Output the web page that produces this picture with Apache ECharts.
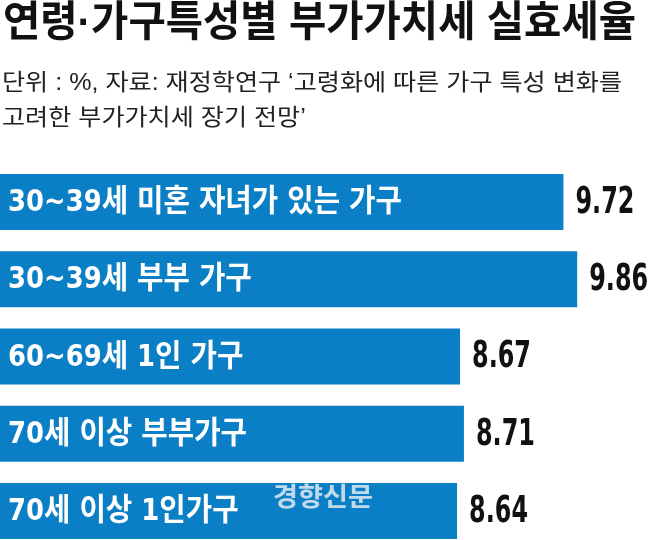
<!DOCTYPE html>
<html>
<head>
<meta charset="utf-8">
<script src="https://cdn.jsdelivr.net/npm/echarts@6/dist/echarts.min.js"></script>
<style>
html, body { margin: 0; padding: 0; background: #fff; }
#chart { width: 649px; height: 540px; }
</style>
</head>
<body>
<div id="chart"></div>
<script>
// 데이터
var categories = ['30~39세 미혼 자녀가 있는 가구', '30~39세 부부 가구', '60~69세 1인 가구', '70세 이상 부부가구', '70세 이상 1인가구'];
var rates = [9.72, 9.86, 8.67, 8.71, 8.64];
var axisMin = 4, axisMax = 10;
var titleText = '연령·가구특성별 부가가치세 실효세율';
var noteLines = ['단위 : %, 자료: 재정학연구 ‘고령화에 따른 가구 특성 변화를', '고려한 부가가치세 장기 전망’'];
var sourceMark = '경향신문';

// 좁은 글꼴 흉내: 폭을 재서 가로 비율을 맞춘다
function fitScale(text, font, target) {
    var ctx = document.createElement('canvas').getContext('2d');
    ctx.font = font;
    return target / ctx.measureText(text).width;
}

var narrow = '"DejaVu Sans Condensed"';
var titleFont = 'bold 42px "Liberation Sans", "Noto Sans CJK KR"';
var noteFont = '23px "Liberation Sans", "Noto Sans CJK KR"';
var nameFont = 'bold 31px ' + narrow + ', "Noto Sans CJK KR"';
var valFont = 'bold 38px ' + narrow;
var markFont = 'bold 26px "Noto Sans CJK KR"';
var titleScale = fitScale(titleText, titleFont, 633);
var noteScale = fitScale(noteLines[0], noteFont, 620);
var nameScale = fitScale(categories[0], nameFont, 394);
var valScale = fitScale('9.72', valFont, 59);
var markScale = fitScale(sourceMark, markFont, 100);

var chart = echarts.init(document.getElementById('chart'));
chart.setOption({
    animation: false,
    grid: {
        left: 0,
        top: 163.5,
        width: 591,
        height: 386,
        outerBoundsMode: 'none'
    },
    xAxis: {
        type: 'value',
        min: axisMin,
        max: axisMax,
        show: false
    },
    yAxis: {
        type: 'category',
        data: categories,
        inverse: true,
        axisLine: { show: false },
        axisTick: { show: false },
        axisLabel: { show: false }
    },
    series: [
        {
            type: 'bar',
            data: rates,
            barWidth: 56,
            itemStyle: { color: '#0a7fc5' }
        },
        {
            // 막대 안 항목명 + 막대 끝 수치
            type: 'custom',
            z: 5,
            data: rates.map(function (v, i) { return [v, i]; }),
            encode: { x: 0, y: 1 },
            renderItem: function (params, api) {
                var v = api.value(0), idx = api.value(1);
                var end = api.coord([v, idx]);
                var start = api.coord([axisMin, idx]);
                return {
                    type: 'group',
                    children: [
                        {
                            type: 'text',
                            x: start[0] + 8, y: end[1] + 1,
                            scaleX: nameScale,
                            style: { text: categories[idx], font: nameFont, fill: '#fff', verticalAlign: 'middle' }
                        },
                        {
                            type: 'text',
                            x: end[0] + 12, y: end[1] + 1,
                            scaleX: valScale,
                            style: { text: v.toFixed(2), font: valFont, fill: '#111', verticalAlign: 'middle' }
                        }
                    ]
                };
            }
        }
    ],
    graphic: [
        {
            type: 'text',
            x: 3, y: 24,
            scaleX: titleScale,
            style: { text: titleText, font: titleFont, fill: '#111', textVerticalAlign: 'middle' }
        },
        {
            type: 'text',
            x: 2, y: 84,
            scaleX: noteScale,
            style: { text: noteLines[0], font: noteFont, fill: '#222', textVerticalAlign: 'middle' }
        },
        {
            type: 'text',
            x: 2, y: 119,
            scaleX: noteScale,
            style: { text: noteLines[1], font: noteFont, fill: '#222', textVerticalAlign: 'middle' }
        },
        {
            type: 'text',
            x: 273, y: 496,
            z: 20,
            scaleX: markScale,
            style: { text: sourceMark, font: markFont, fill: 'rgba(225,234,242,0.85)', textVerticalAlign: 'middle' }
        }
    ]
});
</script>
</body>
</html>
